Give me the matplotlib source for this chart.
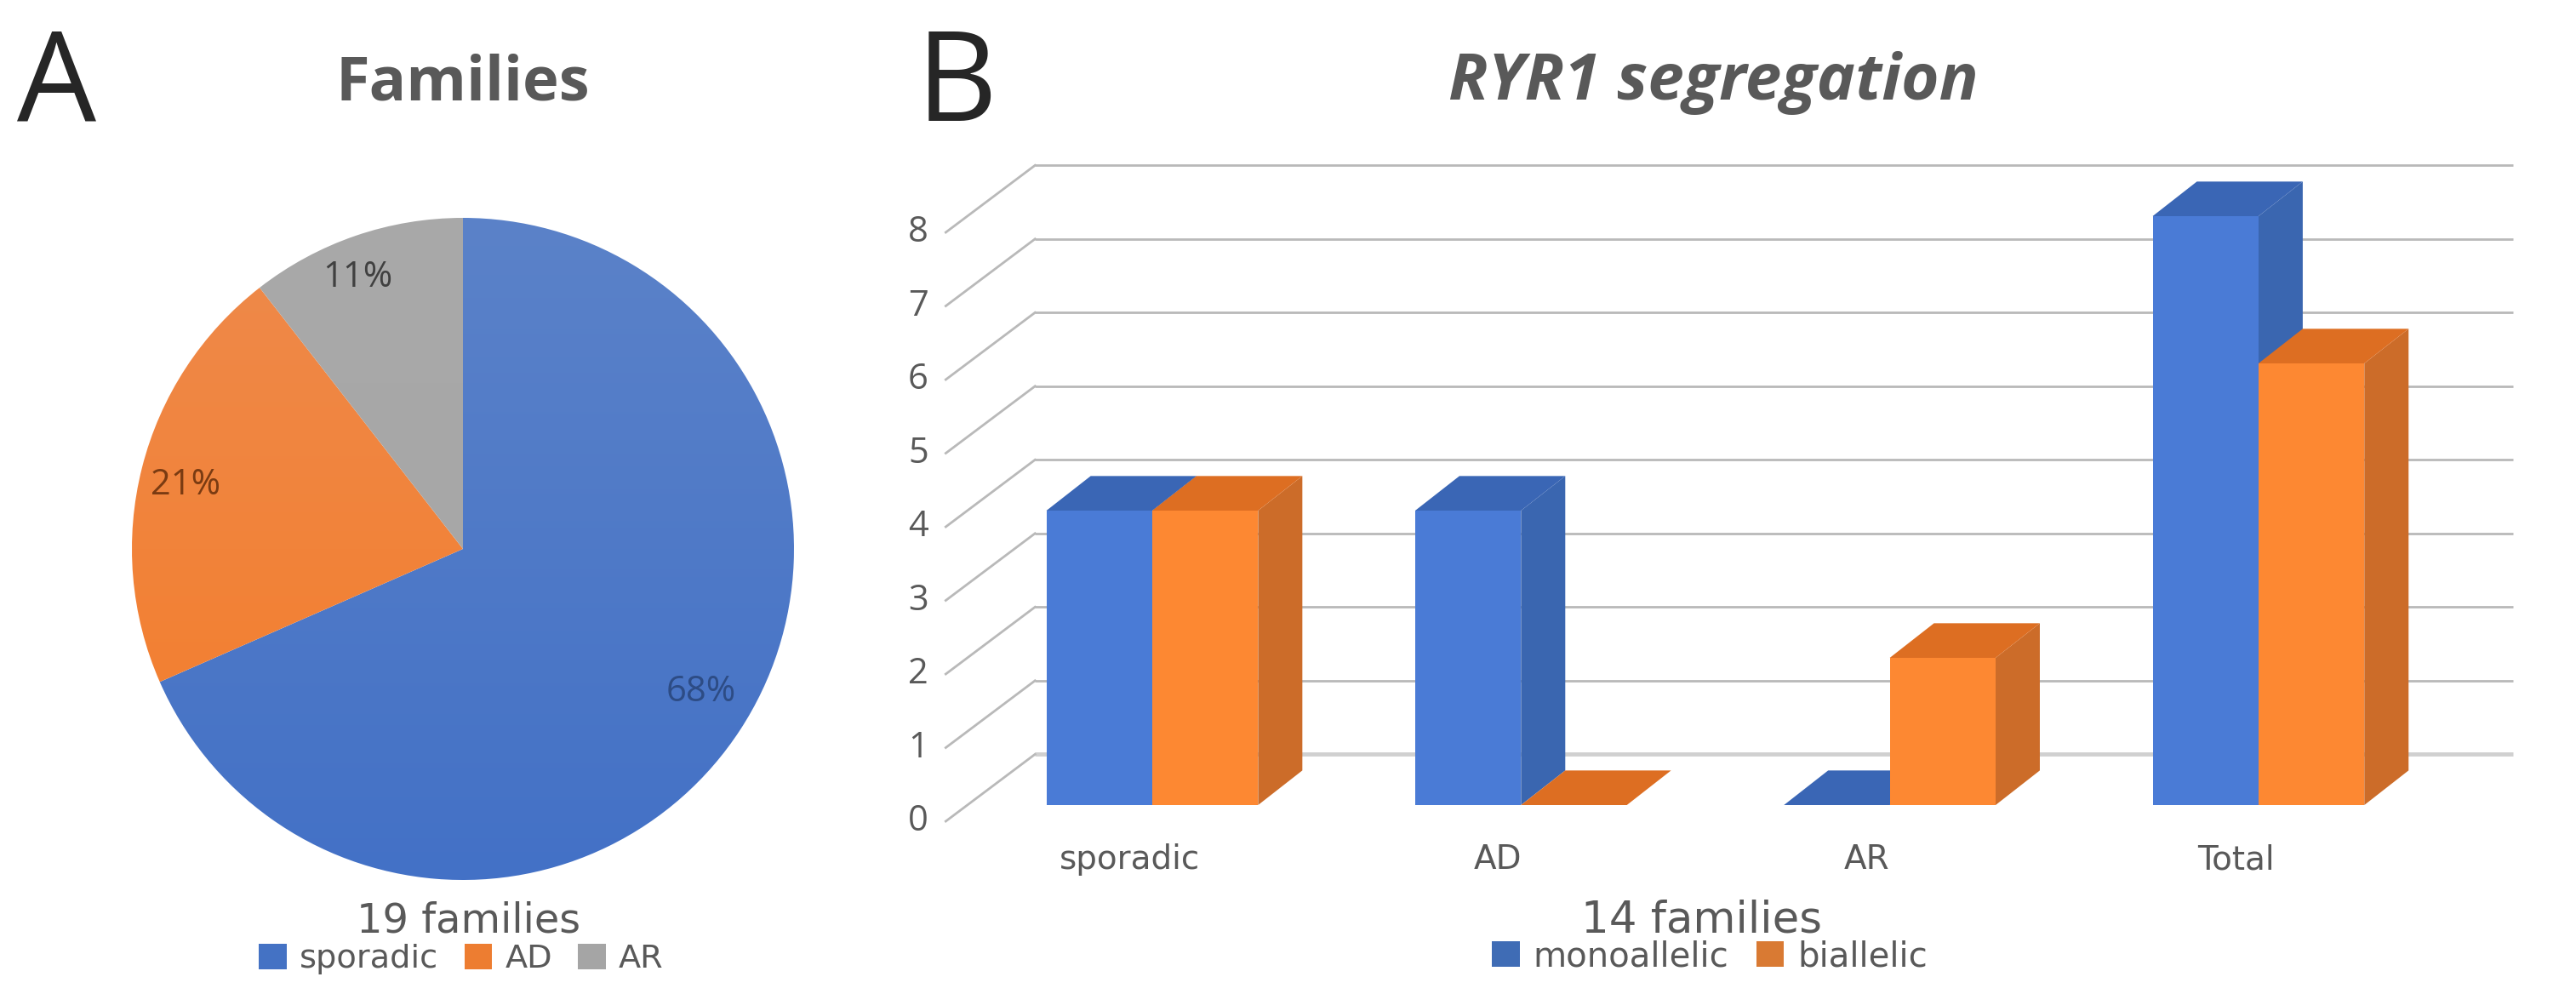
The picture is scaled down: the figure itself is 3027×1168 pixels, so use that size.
import numpy as np
import matplotlib
matplotlib.use('Agg')
import matplotlib.pyplot as plt
from matplotlib.colors import LinearSegmentedColormap
from matplotlib.patches import Patch, Polygon

plt.rcParams['font.family'] = ['Open Sans', 'DejaVu Sans']

# pie data (number of families)
pie_labels = ['sporadic', 'AD', 'AR']
pie_counts = [13, 4, 2]

# bar data
categories = ['sporadic', 'AD', 'AR', 'Total']
monoallelic = [4, 4, 0, 8]
biallelic = [4, 0, 2, 6]
y_ticks = [0, 1, 2, 3, 4, 5, 6, 7, 8]

W, H = 3027, 1168
TEXT = '#595959'
WIDE = 'DejaVu Sans'
fig = plt.figure(figsize=(W / 100, H / 100), dpi=100, facecolor='white')


def px_axes(left, top, right, bottom):
    # axes from pixel box, y measured from the top of the image
    return fig.add_axes([left / W, 1 - bottom / H, (right - left) / W, (bottom - top) / H])


# panel letters and titles
fig.text(67 / W, 1 - 142 / H, 'A', fontsize=106, color='#262626', ha='center', va='baseline', family='Open Sans')
fig.text(1124 / W, 1 - 142 / H, 'B', fontsize=106, color='#262626', ha='center', va='baseline', family='Open Sans')
fig.text(544 / W, 1 - 117 / H, 'Families', fontsize=52, fontweight='bold', color=TEXT, ha='center', va='baseline')
fig.text(2013 / W, 1 - 117 / H, 'RYR1 segregation', fontsize=55, fontweight='bold', fontstyle='italic',
         color=TEXT, ha='center', va='baseline')

# ---- pie ----
cx, cy, r = 544, 645, 389
ax1 = px_axes(cx - 1.05 * r, cy - 1.05 * r, cx + 1.05 * r, cy + 1.05 * r)
wedges, _, pct = ax1.pie(pie_counts, startangle=90, counterclock=False, radius=1,
                         autopct='%.0f%%', frame=False, textprops={'fontsize': 30})
grads = [('#5b82c9', '#4371c6'), ('#ee8a4c', '#f57c28'), ('#a9a9a9', '#a5a5a5')]
for w, (c_top, c_bot) in zip(wedges, grads):
    cmap = LinearSegmentedColormap.from_list('g', [c_top, c_bot])
    im = ax1.imshow(np.linspace(0, 1, 256).reshape(-1, 1), extent=(-1, 1, -1, 1), cmap=cmap,
                    aspect='auto', origin='upper', zorder=1)
    im.set_clip_path(w)
    w.set_facecolor('none')
    w.set_edgecolor('none')
label_pos = [(0.72, -0.433), (-0.839, 0.192), (-0.318, 0.819)]
for t, c, p in zip(pct, ['#2d4c85', '#7a3b12', '#404040'], label_pos):
    t.set_color(c)
    t.set_zorder(5)
    t.set_position(p)
ax1.set_xlim(-1.05, 1.05)
ax1.set_ylim(-1.05, 1.05)
ax1.axis('off')

fig.text(551 / W, 1 - 1095 / H, '19 families', fontsize=34.5, color=TEXT, ha='center', va='baseline', family=WIDE)
pie_handles = [Patch(color=c, lw=0) for c in ['#4472c4', '#ed7d31', '#a5a5a5']]
fig.legend(pie_handles, pie_labels, loc='center', bbox_to_anchor=(542 / W, 1 - 1127 / H), ncol=3, frameon=False,
           prop={'family': WIDE, 'size': 27.5}, labelcolor=TEXT, handlelength=0.85, handleheight=0.85,
           handletextpad=0.4, columnspacing=0.8, borderpad=0, borderaxespad=0)

# ---- 3D look bars ----
xs = 433.3   # px per category
ys = 86.5    # px per unit
x0px, y0px = 1354, 946
ax2 = px_axes(1090, 170, 2970, 1040)
ax2.set_xlim((1090 - x0px) / xs, (2970 - x0px) / xs)
ax2.set_ylim((y0px - 1040) / ys, (y0px - 170) / ys)
ax2.axis('off')

bar_w = 0.287
depth_x, depth_y = 0.12, 0.47
back_l, back_r, back_y = -0.318, 3.69, 0.69
wall_x, wall_y = -0.56, -0.22

for v in y_ticks:
    lw = 3.5 if v == 0 else 2
    col = '#d0d0d0' if v == 0 else '#b9b9b9'
    ax2.plot([back_l, back_r], [v + back_y, v + back_y], color=col, lw=lw, zorder=1, solid_capstyle='butt')
    ax2.plot([wall_x, back_l], [v + wall_y, v + back_y], color='#b9b9b9', lw=2, zorder=1)
    ax2.text(-0.635, v + wall_y, str(v), fontsize=30, color=TEXT, ha='center', va='center')


def draw_series(values, offset, front, side, top, z):
    pos = np.arange(len(values)) + offset
    ax2.bar(pos, values, bar_w, align='edge', color=front, lw=0, zorder=z + 0.5)
    for x, v in zip(pos, values):
        ax2.add_patch(Polygon([(x + bar_w, 0), (x + bar_w + depth_x, depth_y),
                               (x + bar_w + depth_x, v + depth_y), (x + bar_w, v)],
                              closed=True, fc=side, lw=0, zorder=z))
        ax2.add_patch(Polygon([(x, v), (x + depth_x, v + depth_y),
                               (x + bar_w + depth_x, v + depth_y), (x + bar_w, v)],
                              closed=True, fc=top, lw=0, zorder=z + 0.2))


draw_series(monoallelic, -bar_w, '#4a7bd6', '#3a66b0', '#3a66b5', 3)
draw_series(biallelic, 0, '#fd8832', '#cc6c29', '#dd6e22', 4)

for i, c in enumerate(categories):
    ax2.text(i - 0.062, -0.74, c, fontsize=28, color=TEXT, ha='center', va='center', family=WIDE)

fig.text(2000 / W, 1 - 1095 / H, '14 families', fontsize=37, color=TEXT, ha='center', va='baseline', family=WIDE)
bar_handles = [Patch(color='#3f6cb5', lw=0), Patch(color='#d97a33', lw=0)]
fig.legend(bar_handles, ['monoallelic', 'biallelic'], loc='center', bbox_to_anchor=(2009 / W, 1 - 1124 / H), ncol=2,
           frameon=False, prop={'family': WIDE, 'size': 29}, labelcolor=TEXT, handlelength=0.8, handleheight=0.8,
           handletextpad=0.4, columnspacing=0.8, borderpad=0, borderaxespad=0)

fig.savefig('out.png', dpi=100, facecolor='white')
